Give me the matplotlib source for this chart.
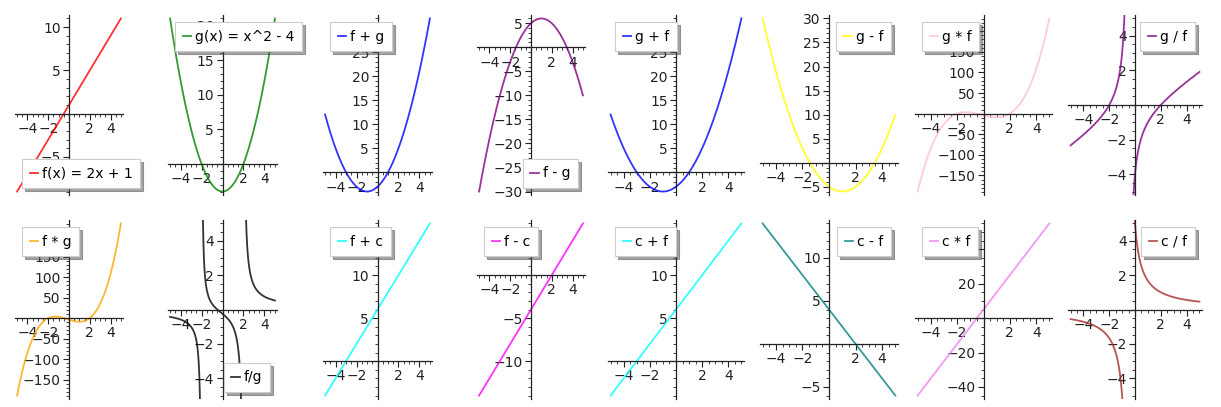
import numpy as np
import matplotlib
matplotlib.use("Agg")
import matplotlib.pyplot as plt
from matplotlib.ticker import MultipleLocator, FuncFormatter

# ---- data (function definitions read from the legends) ----
f_coef = [2, 1]          # f(x) = 2x + 1
g_coef = [1, 0, -4]      # g(x) = x^2 - 4
c_value = 5              # constant c
x_range = [-5, 5]
rational_ylim = [-5, 5]

ops = ["f", "g", "f+g", "f-g", "g+f", "g-f", "g*f", "g/f",
       "f*g", "f/g", "f+c", "f-c", "c+f", "c-f", "c*f", "c/f"]
labels = ["f(x) = 2x + 1", "g(x) = x^2 - 4", "f + g", "f - g", "g + f", "g - f",
          "g * f", "g / f", "f * g", "f/g", "f + c", "f - c", "c + f", "c - f",
          "c * f", "c / f"]
colors = ["#ff0000", "#008000", "#0000ff", "#800080", "#0000ff", "#ffff00",
          "#ffc0cb", "#800080", "#ffa500", "#000000", "#00ffff", "#ff00ff",
          "#00ffff", "#008080", "#ee82ee", "#a52a2a"]
y_major = [5, 5, 5, 5, 5, 5, 50, 2, 50, 2, 5, 5, 5, 5, 20, 2]
y_minor = [1, 1, 1, 1, 1, 1, 10, 0.5, 10, 0.5, 1, 1, 1, 1, 5, 0.5]
legend_locs = ["lower left", "upper left", "upper left", "lower right",
               "upper left", "upper right", "upper left", "upper right",
               "upper left", "lower right", "upper left", "upper left",
               "upper left", "upper right", "upper left", "upper right"]

# ---- layout (pixel boxes of each panel) ----
W, H = 1221, 407
col_px = [(15, 123), (168, 277), (323, 432), (477, 585),
          (608, 744), (760, 898), (915, 1052), (1068, 1202)]
row_px = [(15, 195), (220, 399)]

fig = plt.figure(figsize=(W / 100, H / 100), dpi=100)

x = np.linspace(x_range[0], x_range[1], 4001)
fv = np.polyval(f_coef, x)
gv = np.polyval(g_coef, x)
cv = np.full_like(x, c_value, dtype=float)
vals = {"f": fv, "g": gv, "c": cv}


def evaluate(op):
    if len(op) == 1:
        return vals[op]
    a, o, b = vals[op[0]], op[1], vals[op[2]]
    with np.errstate(divide="ignore", invalid="ignore"):
        if o == "+":
            return a + b
        if o == "-":
            return a - b
        if o == "*":
            return a * b
        y = a / b
    y = y.copy()
    y[np.abs(y) > 60] = np.nan
    return y


fmt = FuncFormatter(lambda v, p: "" if abs(v) < 1e-9 else ("%g" % v).replace("-", "\u2212"))

for i, op in enumerate(ops):
    r, cidx = divmod(i, 8)
    l, rr = col_px[cidx]
    t, b = row_px[r]
    ax = fig.add_axes([l / W, 1 - b / H, (rr - l) / W, (b - t) / H])
    ax.set_facecolor("none")
    y = evaluate(op)
    ax.plot(x, y, color=colors[i], lw=1.3, alpha=0.8, label=labels[i])
    if "/" in op:
        y0, y1 = rational_ylim
    else:
        y0, y1 = np.nanmin(y), np.nanmax(y)
    mx = 0.02 * (x_range[1] - x_range[0])
    my = 0.02 * (y1 - y0)
    ax.set_xlim(x_range[0] - mx, x_range[1] + mx)
    ax.set_ylim(y0 - my, y1 + my)
    for s in ("top", "right"):
        ax.spines[s].set_visible(False)
    for s in ("left", "bottom"):
        ax.spines[s].set_position(("data", 0))
        ax.spines[s].set_linewidth(0.9)
        ax.spines[s].set_color("#222222")
    ax.xaxis.set_major_locator(MultipleLocator(2))
    ax.xaxis.set_minor_locator(MultipleLocator(0.5))
    ax.yaxis.set_major_locator(MultipleLocator(y_major[i]))
    ax.yaxis.set_minor_locator(MultipleLocator(y_minor[i]))
    ax.xaxis.set_major_formatter(fmt)
    ax.yaxis.set_major_formatter(fmt)
    ax.tick_params(which="major", direction="out", length=4, width=0.8,
                   labelsize=10, colors="#222222", pad=2)
    ax.tick_params(which="minor", direction="out", length=2, width=0.6,
                   colors="#222222")
    leg = ax.legend(loc=legend_locs[i], fontsize=10, shadow=True, fancybox=False,
                    handlelength=0.6, handletextpad=0.3, borderpad=0.55,
                    borderaxespad=0.5, framealpha=1, edgecolor="#cccccc")
    leg.get_frame().set_linewidth(0.8)
    leg.set_zorder(10)

fig.savefig("out.png", dpi=100)
